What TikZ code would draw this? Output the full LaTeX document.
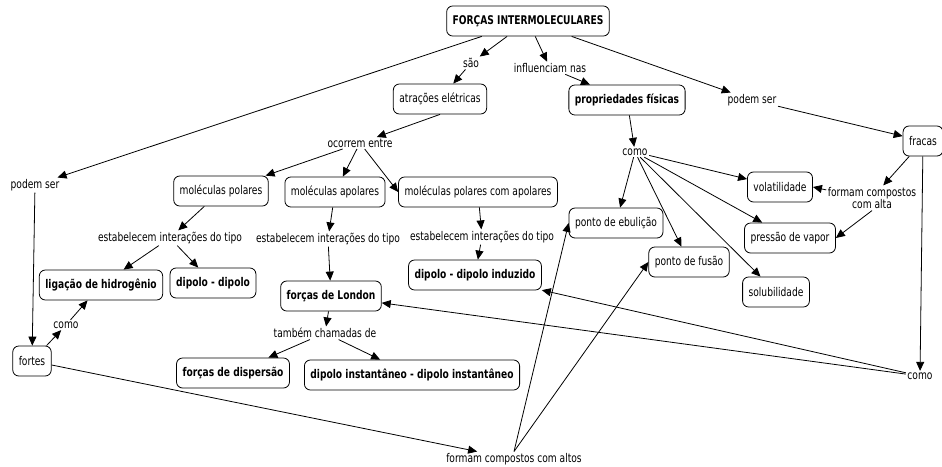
\documentclass[tikz,border=0pt]{standalone}
\usepackage{fontspec}
\setmainfont{DejaVu Sans}[FakeStretch=0.76]
\usetikzlibrary{arrows.meta}
\newcommand\mapfont{\fontsize{12pt}{12.5pt}\selectfont}
\tikzset{
  concept/.style={draw, rounded corners=6pt, fill=white, line width=0.8pt,
    inner xsep=6pt, inner ysep=2pt, minimum height=30pt, font=\mapfont},
  keyconcept/.style={concept, font=\mapfont\bfseries},
  phrase/.style={inner sep=1.5pt, align=center, font=\mapfont},
  link/.style={-{Triangle[length=9pt, width=8pt]}, line width=0.8pt},
}

\begin{document}
\begin{tikzpicture}[x=1pt, y=-1pt]
  \useasboundingbox (0,0) rectangle (942,466);
  % top of the map
  \node[keyconcept] (top) at (528,21) {FORÇAS INTERMOLECULARES};
  \node[phrase] (sao) at (471,63) {são};
  \node[phrase] (influ) at (550,68) {influenciam nas};
  \node[phrase] (podemR) at (752,100) {podem ser};
  \node[phrase] (podemL) at (35,185) {podem ser};
  \node[concept] (atr) at (440,99) {atrações elétricas};
  \node[keyconcept] (prop) at (627,100) {propriedades físicas};
  \node[concept] (fracas) at (923,141) {fracas};
  % physical properties
  \node[phrase] (como1) at (635,152) {como};
  \node[concept] (volat) at (780,187) {volatilidade};
  \node[phrase] (altaR) at (872,198) {formam compostos\\com alta};
  \node[concept] (pressao) at (790,238) {pressão de vapor};
  \node[concept] (ebul) at (616,223) {ponto de ebulição};
  \node[concept] (fusao) at (689,262) {ponto de fusão};
  \node[concept] (solub) at (776,292) {solubilidade};
  \node[phrase] (como2) at (920,376) {como};
  \node[phrase] (altos) at (514,459) {formam compostos com altos};
  % kinds of molecules
  \node[phrase] (ocorrem) at (360,143) {ocorrem entre};
  \node[concept] (polares) at (221,191) {moléculas polares};
  \node[concept] (apolares) at (335,192) {moléculas apolares};
  \node[concept] (polapol) at (478,192) {moléculas polares com apolares};
  \node[phrase] (est1) at (170,238) {estabelecem interações do tipo};
  \node[phrase] (est2) at (328,239) {estabelecem interações do tipo};
  \node[phrase] (est3) at (482,237) {estabelecem interações do tipo};
  \node[keyconcept] (hidro) at (101,285) {ligação de hidrogênio};
  \node[keyconcept] (dd) at (213,283) {dipolo - dipolo};
  \node[keyconcept] (london) at (331,296) {forças de London};
  \node[keyconcept] (ddi) at (475,275) {dipolo - dipolo induzido};
  % strong forces and London
  \node[concept] (fortes) at (32,361) {fortes};
  \node[phrase] (como3) at (66,325) {como};
  \node[phrase] (tambem) at (325,333) {também chamadas de};
  \node[keyconcept] (disp) at (233,373) {forças de dispersão};
  \node[keyconcept] (inst) at (412,375) {dipolo instantâneo - dipolo instantâneo};

  % links
  \draw[link] (top) -- (sao);
  \draw[link] (sao) -- (atr);
  \draw[link] (top) -- (influ);
  \draw[link] (influ) -- (prop);
  \draw[link] (top) -- (podemR);
  \draw[link] (podemR) -- (fracas);
  \draw[link] (top) -- (podemL);
  \draw[link] (podemL) -- (fortes);
  \draw[link] (fortes) -- (como3);
  \draw[link] (como3) -- (hidro);
  \draw[link] (fortes) -- (altos);
  \draw[link] (altos.north) -- (ebul.west);
  \draw[link] (altos.north) -- (fusao.west);
  \draw[link] (atr.south) -- (ocorrem);
  \draw[link] (ocorrem) -- (polares);
  \draw[link] (ocorrem) -- (apolares);
  \draw[link] (ocorrem) -- (polapol.west);
  \draw[link] (polares) -- (est1);
  \draw[link] (est1) -- (hidro);
  \draw[link] (est1) -- (dd);
  \draw[link] (apolares) -- (est2);
  \draw[link] (est2) -- (london);
  \draw[link] (polapol) -- (est3);
  \draw[link] (est3) -- (ddi);
  \draw[link] (london) -- (tambem);
  \draw[link] (tambem) -- (disp);
  \draw[link] (tambem) -- (inst);
  \draw[link] (prop) -- (como1);
  \draw[link] (como1) -- (volat);
  \draw[link] (como1) -- (ebul);
  \draw[link] (como1) -- (fusao);
  \draw[link] (como1) -- (pressao);
  \draw[link] (como1) -- (solub);
  \draw[link] (fracas) -- (altaR);
  \draw[link] (altaR.170) -- (volat.east);
  \draw[link] (altaR.south) -- (pressao.east);
  \draw[link] (fracas) -- (como2);
  \draw[link] (como2) -- (london);
  \draw[link] (como2) -- (ddi);
\end{tikzpicture}
\end{document}
